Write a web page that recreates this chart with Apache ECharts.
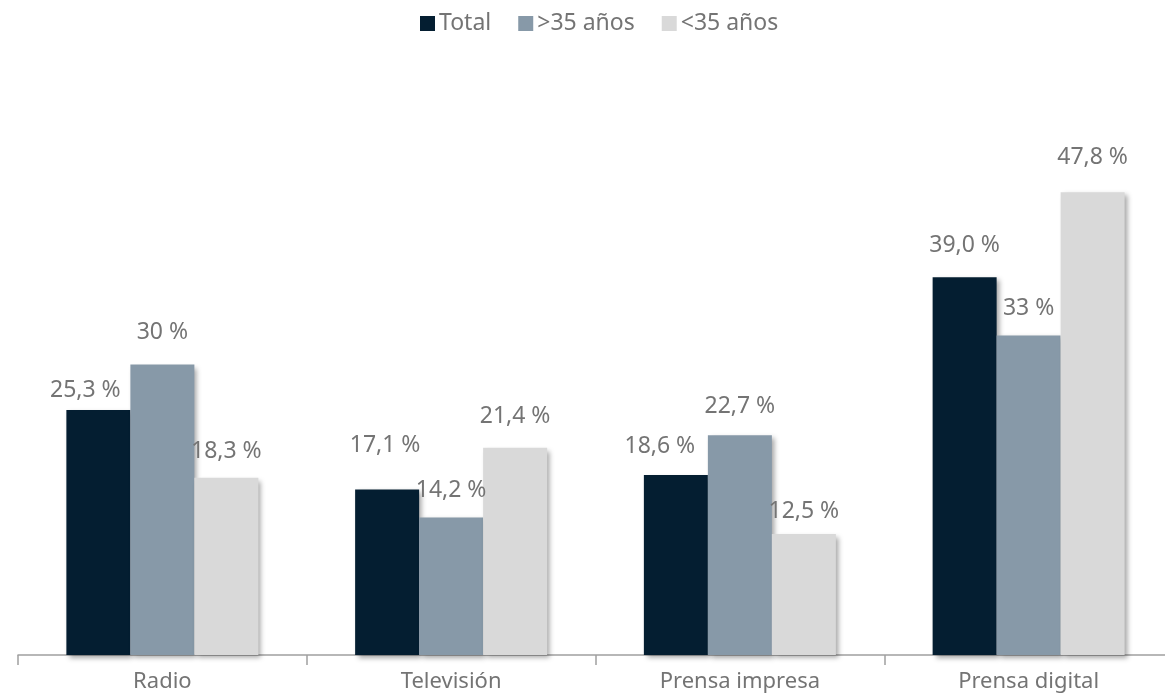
<!DOCTYPE html>
<html>
<head>
<meta charset="utf-8">
<script src="https://cdn.jsdelivr.net/npm/echarts@6/dist/echarts.min.js"></script>
<style>
  html, body { margin: 0; padding: 0; background: #fff; overflow: hidden; }
  /* a little wider than the window: the last category runs past the right edge */
  #chart { width: 1175px; height: 697px; }
</style>
</head>
<body>
<div id="chart"></div>
<script>
// data
var categories = ['Radio', 'Televisión', 'Prensa impresa', 'Prensa digital'];
var seriesNames = ['Total', '>35 años', '<35 años'];
var total = [25.3, 17.1, 18.6, 39.0];
var mayores = [30, 14.2, 22.7, 33];
var menores = [18.3, 21.4, 12.5, 47.8];
var labelTexts = [
  ['25,3 %', '17,1 %', '18,6 %', '39,0 %'],
  ['30 %', '14,2 %', '22,7 %', '33 %'],
  ['18,3 %', '21,4 %', '12,5 %', '47,8 %']
];
// hand-placed label nudges (as in the original)
var labelOffsets = [
  [[-13, -3], [-2, -27], [-16, -12], [0, -15]],
  [[0, -16], [0, -11], [0, -12], [0, -10]],
  [[0, -10], [0, -15], [0, -6], [0, -18]]
];
var colors = ['#041e31', '#8799a8', '#d9d9d9'];

var textColor = '#747474';
var font = '"Noto Sans", sans-serif';

function makeSeries(idx, values) {
  return {
    name: seriesNames[idx],
    type: 'bar',
    barWidth: 64,
    barGap: '0%',
    itemStyle: {
      color: colors[idx],
      shadowColor: 'rgba(0,0,0,0.35)',
      shadowBlur: 5,
      shadowOffsetX: 3,
      shadowOffsetY: 3
    },
    data: values.map(function (v, i) {
      return {
        value: v,
        label: {
          show: true,
          position: 'top',
          offset: labelOffsets[idx][i],
          formatter: labelTexts[idx][i]
        }
      };
    }),
    label: {
      color: textColor,
      fontSize: 23,
      fontFamily: font
    }
  };
}

var myChart = echarts.init(document.getElementById('chart'));

var option = {
  animation: false,
  color: colors,
  legend: {
    top: 7,
    left: 415,
    itemWidth: 15,
    itemHeight: 15,
    itemGap: 27,
    icon: 'rect',
    textStyle: { color: textColor, fontSize: 23, fontFamily: font, padding: [0, 0, 0, -1] },
    data: seriesNames
  },
  grid: { left: 18, right: 2, top: 74, bottom: 42, containLabel: false },
  xAxis: {
    type: 'category',
    data: categories,
    axisLine: { lineStyle: { color: '#a0a0a0', width: 1.5 } },
    axisTick: { show: true, length: 10, lineStyle: { color: '#a0a0a0', width: 1.5 } },
    axisLabel: { color: textColor, fontSize: 22, fontFamily: font, margin: 16 }
  },
  yAxis: {
    type: 'value',
    min: 0,
    max: 60,
    show: false,
    splitLine: { show: false }
  },
  series: [
    makeSeries(0, total),
    makeSeries(1, mayores),
    makeSeries(2, menores)
  ]
};

myChart.setOption(option);
</script>
</body>
</html>
